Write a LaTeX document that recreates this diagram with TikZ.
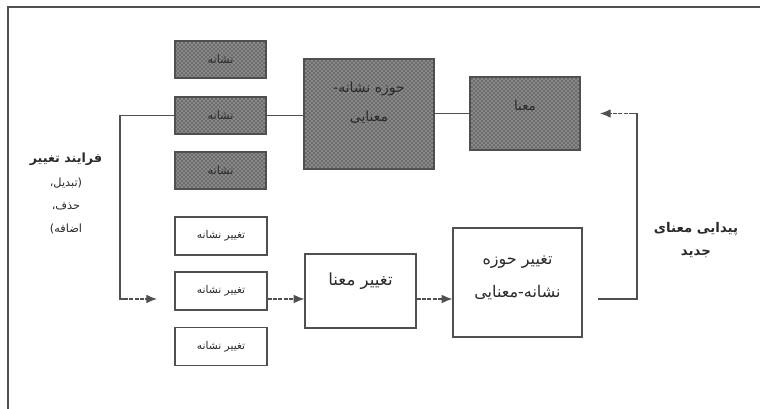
\documentclass[tikz,border=0pt]{standalone}
\usepackage{fontspec}
\newfontfamily\arabicfont[Script=Arabic]{DejaVu Sans}
\TeXXeTstate=1
\usetikzlibrary{patterns,arrows.meta}
\definecolor{ink}{HTML}{505050}
\definecolor{txt}{HTML}{2a2a2a}
\tikzset{
  box/.style={draw=ink, line width=0.9pt, text=txt, align=center, inner sep=0pt},
  hatched/.style={box, preaction={fill=gray!85!black}, pattern=crosshatch dots, pattern color=white!85!gray},
  conn/.style={draw=ink, line width=0.9pt},
  arr/.style={conn, dash pattern=on 3pt off 1pt, -{Latex[length=8pt,width=6.5pt]}},
  lbl/.style={text=txt, align=center, inner sep=0pt}
}
\begin{document}
\begin{tikzpicture}[x=0.75pt,y=-0.75pt]
\useasboundingbox (0,0) rectangle (760,409);
\fill[white] (0,0) rectangle (760,409);
% frame
\draw[conn, line width=1.1pt] (8,409) -- (8,7) -- (760,7);
% top hatched boxes
\node[hatched, minimum width=68.25pt, minimum height=27.75pt, font=\arabicfont\fontsize{8.5}{10}\selectfont] (s1) at (220.5,59.5) {\beginR نشانه\endR};
\node[hatched, minimum width=68.25pt, minimum height=27.75pt, font=\arabicfont\fontsize{8.5}{10}\selectfont] (s2) at (220.5,115.5) {\beginR نشانه\endR};
\node[hatched, minimum width=68.25pt, minimum height=27.75pt, font=\arabicfont\fontsize{8.5}{10}\selectfont] (s3) at (220.5,170.5) {\beginR نشانه\endR};
\node[hatched, minimum width=97.5pt, minimum height=82.5pt] (big) at (369,114) {};
\node[lbl, font=\arabicfont\fontsize{10.5}{22}\selectfont] at (369,103) {\beginR حوزه نشانه-\endR\\ \beginR معنایی\endR};
\node[hatched, minimum width=82.5pt, minimum height=54.75pt] (mean) at (525,113.5) {};
\node[lbl, font=\arabicfont\fontsize{10}{12}\selectfont] at (525,106) {\beginR معنا\endR};
% bottom boxes
\node[box, minimum width=69pt, minimum height=28.5pt, font=\arabicfont\fontsize{8}{10}\selectfont] (b1) at (221,236) {\beginR تغییر نشانه\endR};
\node[box, minimum width=69pt, minimum height=28.5pt, font=\arabicfont\fontsize{8}{10}\selectfont] (b2) at (221,291) {\beginR تغییر نشانه\endR};
\node[box, minimum width=69pt, minimum height=28.5pt, font=\arabicfont\fontsize{8}{10}\selectfont] (b3) at (221,346.5) {\beginR تغییر نشانه\endR};
\node[box, minimum width=83.25pt, minimum height=55.5pt] (mid) at (360.5,291) {};
\node[lbl, font=\arabicfont\fontsize{12.5}{14}\selectfont] at (360.5,281) {\beginR تغییر معنا\endR};
\node[box, minimum width=96.75pt, minimum height=81.75pt] (rb) at (517.5,282.5) {};
\node[lbl, font=\arabicfont\fontsize{12}{25}\selectfont] at (517.5,278) {\beginR تغییر حوزه\endR\\ \beginR نشانه-معنایی\endR};
% side labels
\node[lbl, font=\arabicfont\bfseries\fontsize{9.5}{11}\selectfont] (left) at (66,159) {\beginR فرایند تغییر\endR};
\node[lbl, font=\arabicfont\fontsize{8.5}{17}\selectfont] (left2) at (66,206) {\beginR (تبدیل،\endR\\ \beginR حذف،\endR\\ \beginR اضافه)\endR};
\node[lbl, font=\arabicfont\bfseries\fontsize{10}{17}\selectfont] (right) at (696,240) {\beginR پیدایی معنای\endR\\ \beginR جدید\endR};
% coordinates
\coordinate (ya) at (0,299);
\coordinate (lx) at (120,0);
\coordinate (lt) at (157,0);
\coordinate (rx) at (637,0);
\coordinate (rs) at (598,0);
\coordinate (rt) at (600,0);
% connectors
\draw[conn] (s2.east) -- (big.west |- s2.east);
\draw[conn] (big.east |- mean.west) -- (mean.west);
\draw[conn] (s2.west) -- (lx |- s2.west) -- (lx |- ya) -- ([xshift=3pt]lx |- ya);
\draw[arr] ([xshift=3pt]lx |- ya) -- (lt |- ya);
\draw[arr] (b2.east |- ya) -- (mid.west |- ya);
\draw[arr] (mid.east |- ya) -- (rb.west |- ya);
\draw[conn] (rs |- ya) -- (rx |- ya) -- (rx |- mean.east) -- ([xshift=-3pt]rx |- mean.east);
\draw[arr] ([xshift=-3pt]rx |- mean.east) -- (rt |- mean.east);
\end{tikzpicture}
\end{document}
